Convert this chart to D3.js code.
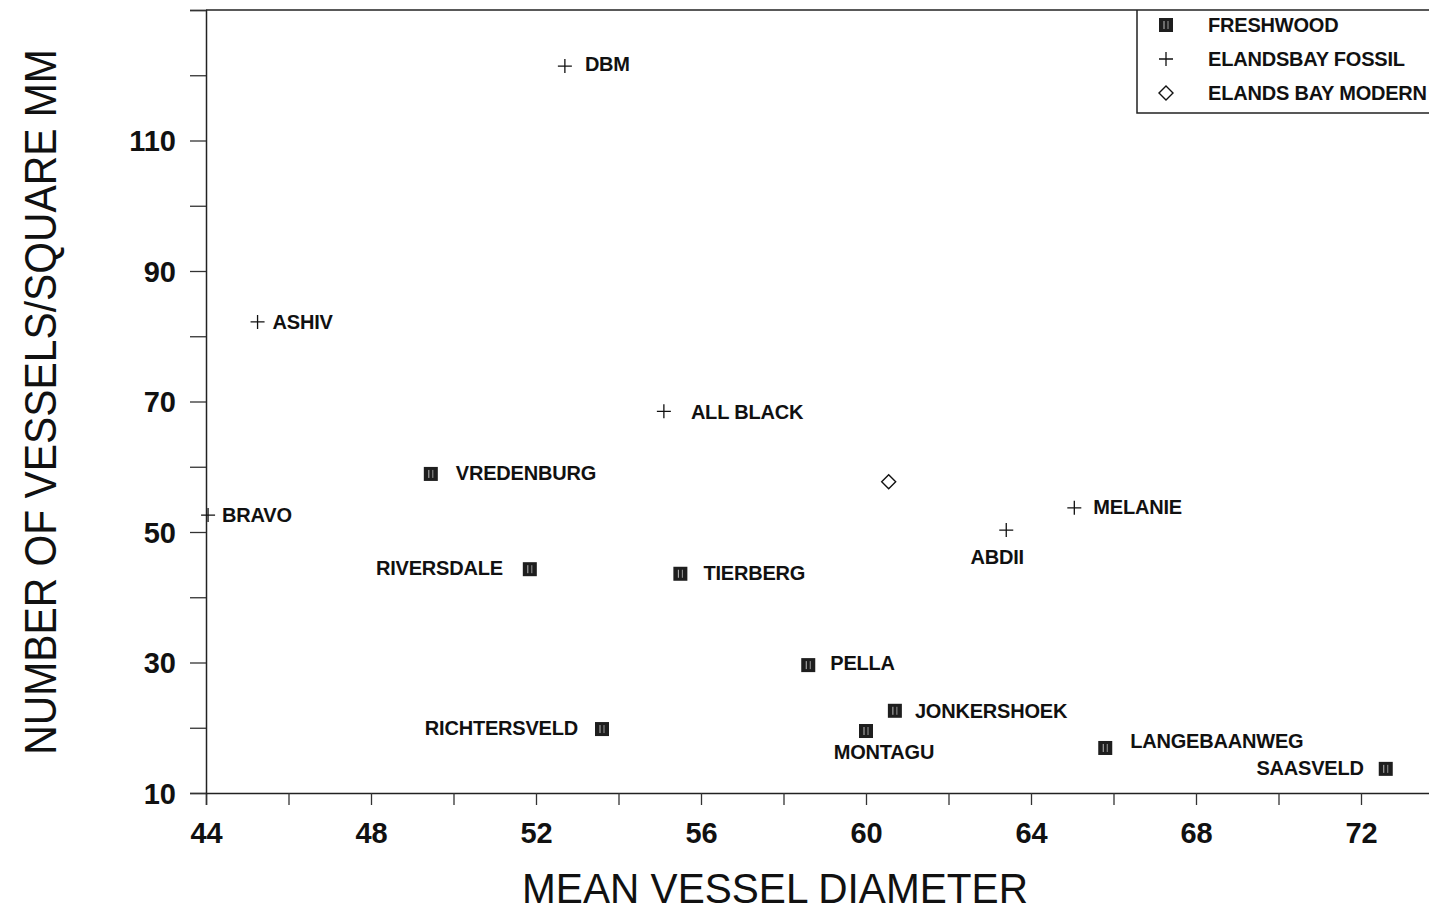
<!DOCTYPE html>
<html>
<head>
<meta charset="utf-8">
<script src="https://cdn.jsdelivr.net/npm/d3@7"></script>
<style>
  body { margin: 0; background: #fff; }
  svg { display: block; font-family: "Liberation Sans", Arial, sans-serif; }
  .lbl { font-size: 20px; font-weight: bold; fill: #111; }
  .tick text { font-size: 29px; font-weight: bold; fill: #111; }
</style>
</head>
<body>
<div id="chart"></div>
<script>
let W = 1429, H = 913;

// series
let freshNames = ['VREDENBURG', 'RIVERSDALE', 'TIERBERG', 'PELLA', 'JONKERSHOEK', 'MONTAGU', 'RICHTERSVELD', 'LANGEBAANWEG', 'SAASVELD'];
let freshX = [49.45, 51.85, 55.5, 58.6, 60.7, 60.0, 53.6, 65.8, 72.6];
let freshY = [58.9, 44.3, 43.6, 29.6, 22.6, 19.5, 19.8, 16.9, 13.7];

let fossilNames = ['DBM', 'ASHIV', 'ALL BLACK', 'BRAVO', 'ABDII', 'MELANIE'];
let fossilX = [52.7, 45.25, 55.1, 44.05, 63.4, 65.05];
let fossilY = [121.4, 82.2, 68.5, 52.6, 50.3, 53.7];

let modernNames = [''];
let modernX = [60.55];
let modernY = [57.7];

let legendLabels = ['FRESHWOOD', 'ELANDSBAY FOSSIL', 'ELANDS BAY MODERN'];
let xTickLabels = [44, 48, 52, 56, 60, 64, 68, 72];
let yTickLabels = [10, 30, 50, 70, 90, 110];

// where each label sits relative to its marker
let place = {
	'DBM': [20, -2, 'start'], 'ASHIV': [15, 0, 'start'], 'ALL BLACK': [27, 1, 'start'],
	'BRAVO': [14, 0, 'start'], 'ABDII': [-9, 27, 'middle'], 'MELANIE': [19, -1, 'start'],
	'VREDENBURG': [25, -1, 'start'], 'RIVERSDALE': [-27, -1, 'end'], 'TIERBERG': [23, -1, 'start'],
	'PELLA': [22, -2, 'start'], 'JONKERSHOEK': [20, 0, 'start'], 'MONTAGU': [18, 21, 'middle'],
	'RICHTERSVELD': [-24, -1, 'end'], 'LANGEBAANWEG': [25, -7, 'start'], 'SAASVELD': [-22, -1, 'end']
};

let svg = d3.select('#chart').append('svg')
	.attr('width', W)
	.attr('height', H);

let x = d3.scaleLinear().domain([44, 74]).range([206, 1443.5]);
let y = d3.scaleLinear().domain([10, 130]).range([793, 10]);

// axes
let xAxis = svg.append('g')
	.attr('transform', `translate(0,${y(10)})`)
	.call(d3.axisBottom(x).tickValues(d3.range(44, 75, 2)).tickSize(12).tickPadding(16)
		.tickFormat(d => xTickLabels.includes(d) ? d : ''));
let yAxis = svg.append('g')
	.attr('transform', `translate(${x(44)},0)`)
	.call(d3.axisLeft(y).tickValues(d3.range(10, 131, 10)).tickSize(16).tickPadding(14)
		.tickFormat(d => yTickLabels.includes(d) ? d : ''));
[xAxis, yAxis].forEach(a => {
	a.select('.domain').attr('stroke', '#222').attr('stroke-width', 1.5);
	a.selectAll('.tick line').attr('stroke', '#333').attr('stroke-width', 1.3);
});
xAxis.selectAll('.tick text').attr('dy', '0.75em');
yAxis.selectAll('.tick text').attr('dy', '0.36em');

// top frame line
svg.append('line')
	.attr('x1', x(44)).attr('x2', W)
	.attr('y1', y(130)).attr('y2', y(130))
	.attr('stroke', '#222').attr('stroke-width', 1.5);

// axis titles: narrow face in the original, so squeeze horizontally to a target length
let title = (txt, tx, ty, rot, size, len) => {
	let g = svg.append('g');
	let t = g.append('text')
		.attr('text-anchor', 'middle')
		.attr('font-size', size)
		.attr('fill', '#111')
		.text(txt);
	let k = len / t.node().getComputedTextLength();
	g.attr('transform', `translate(${tx},${ty}) rotate(${rot}) scale(${k},1)`);
};
title('MEAN VESSEL DIAMETER', 775, 903, 0, 42, 506);
title('NUMBER OF VESSELS/SQUARE MM', 56, 402, -90, 44, 706);

// markers
let square = (g, cx, cy) => {
	g.append('rect').attr('x', cx - 7).attr('y', cy - 7).attr('width', 14).attr('height', 14)
		.attr('fill', '#1e1e1e');
	g.append('line').attr('x1', cx - 2).attr('x2', cx - 2).attr('y1', cy - 4).attr('y2', cy + 4)
		.attr('stroke', '#bbb').attr('stroke-width', 1);
	g.append('line').attr('x1', cx + 2).attr('x2', cx + 2).attr('y1', cy - 4).attr('y2', cy + 4)
		.attr('stroke', '#999').attr('stroke-width', 1);
};
let plus = (g, cx, cy) => {
	g.append('path').attr('d', `M${cx - 7},${cy}H${cx + 7}M${cx},${cy - 7}V${cy + 7}`)
		.attr('stroke', '#111').attr('stroke-width', 1.3).attr('fill', 'none');
};
let diamond = (g, cx, cy) => {
	g.append('path').attr('d', `M${cx},${cy - 7}L${cx + 7},${cy}L${cx},${cy + 7}L${cx - 7},${cy}Z`)
		.attr('stroke', '#111').attr('stroke-width', 1.4).attr('fill', '#fff');
};

let pts = svg.append('g');
let series = [
	{names: freshNames, xs: freshX, ys: freshY, mark: square},
	{names: fossilNames, xs: fossilX, ys: fossilY, mark: plus},
	{names: modernNames, xs: modernX, ys: modernY, mark: diamond}
];
series.forEach(s => {
	s.names.forEach((n, i) => {
		let cx = x(s.xs[i]), cy = y(s.ys[i]);
		s.mark(pts, cx, cy);
		if (!n) return;
		let p = place[n] || [15, 0, 'start'];
		pts.append('text')
			.attr('class', 'lbl')
			.attr('x', cx + p[0]).attr('y', cy + p[1])
			.attr('dy', '0.36em')
			.attr('text-anchor', p[2])
			.attr('letter-spacing', -0.2)
			.text(n);
	});
});

// legend
let lg = svg.append('g');
lg.append('path')
	.attr('d', `M1137,${y(130)}V113H${W}`)
	.attr('stroke', '#222').attr('stroke-width', 1.5).attr('fill', 'none');
let marks = [square, plus, diamond];
legendLabels.forEach((t, i) => {
	let ly = 25 + i * 34;
	marks[i](lg, 1166, ly);
	lg.append('text')
		.attr('class', 'lbl')
		.attr('x', 1208).attr('y', ly)
		.attr('dy', '0.36em')
		.attr('letter-spacing', -0.2)
		.text(t);
});
</script>
</body>
</html>
